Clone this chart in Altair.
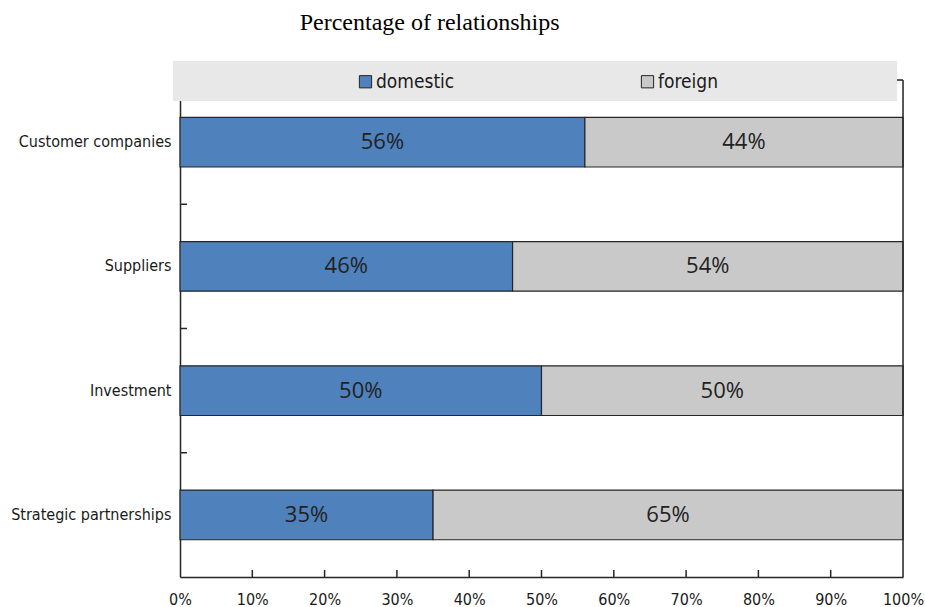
import altair as alt
import pandas as pd

# Share of business relationships by partner location
categories = ["Customer companies", "Suppliers", "Investment", "Strategic partnerships"]
domestic = [56, 46, 50, 35]
foreign = [44, 54, 50, 65]
series = ["domestic", "foreign"]
series_colors = ["#4F81BD", "#C9C9C9"]
x_ticks = [0, 10, 20, 30, 40, 50, 60, 70, 80, 90, 100]

rows = []
for cat, d, f in zip(categories, domestic, foreign):
    rows.append({"category": cat, "series": "domestic", "rank": 0, "value": d})
    rows.append({"category": cat, "series": "foreign", "rank": 1, "value": f})
df = pd.DataFrame(rows)

W, H = 723, 497
NARROW = "Liberation Sans Narrow, Arial Narrow, DejaVu Sans Condensed, sans-serif"
FRAME = "#262626"

x_scale = alt.Scale(domain=[0, 100], nice=False, zero=True)
y_scale = alt.Scale(domain=categories, paddingInner=0.6, paddingOuter=0.3)
b_scale = alt.Scale(domain=[0, len(categories)], nice=False)

x_axis = alt.Axis(values=x_ticks, labelExpr="datum.value + '%'", labelFont=NARROW,
                  labelFontSize=16, labelColor="#1a1a1a", labelPadding=14,
                  labelFlush=False, labelOverlap=False, tickSize=0,
                  domain=True, domainColor=FRAME, domainWidth=1.5, grid=False)

inner_ticks = pd.DataFrame({"t": x_ticks[1:-1]})
boundaries = pd.DataFrame({"b": list(range(1, len(categories)))})

# White gridlines on the pale background
x_grid = alt.Chart(inner_ticks).mark_rule(color="white", strokeWidth=1.2).encode(
    x=alt.X("t:Q", scale=x_scale, axis=x_axis, title=None)
)
y_grid = alt.Chart(boundaries).mark_rule(color="white", strokeWidth=1.2).encode(
    y=alt.Y("b:Q", scale=b_scale, axis=None)
)

stacked = alt.Chart(df).transform_stack(
    stack="value", groupby=["category"], as_=["x0", "x1"], sort=[alt.SortField("rank")]
).transform_calculate(mid="(datum.x0 + datum.x1) / 2", label="datum.value + '%'")

bars = stacked.mark_bar(stroke=FRAME, strokeWidth=1.2).encode(
    y=alt.Y("category:N", scale=y_scale, title=None,
            axis=alt.Axis(labelFont=NARROW, labelFontSize=16, labelColor="#1a1a1a",
                          labelPadding=9, tickSize=0, domain=True, domainColor=FRAME,
                          domainWidth=1.5, grid=False)),
    x=alt.X("x0:Q", scale=x_scale, title=None, axis=x_axis),
    x2="x1:Q",
    color=alt.Color("series:N", scale=alt.Scale(domain=series, range=series_colors),
                    legend=alt.Legend(orient="none", legendX=176, legendY=-8,
                                      direction="horizontal", title=None,
                                      symbolType="square", symbolSize=150,
                                      symbolStrokeColor=FRAME, symbolStrokeWidth=1,
                                      symbolOpacity=1, labelFont=NARROW, labelFontSize=19,
                                      labelColor="#1a1a1a", columnPadding=183,
                                      labelOffset=1)),
)

labels = stacked.mark_text(font="Open Sans", fontSize=22, color="#222222").encode(
    y=alt.Y("category:N", scale=y_scale),
    x=alt.X("mid:Q", scale=x_scale),
    text="label:N",
)

bar_layer = alt.layer(bars, labels)

# Inward tick marks along the bottom edge
x_tick_marks = alt.Chart(inner_ticks).mark_rule(color=FRAME, strokeWidth=1.5).encode(
    x=alt.X("t:Q", scale=x_scale),
    y=alt.value(H - 7),
    y2=alt.value(H),
)

# Inward tick marks on the left edge between categories
y_tick_marks = alt.Chart(boundaries).mark_rule(color=FRAME, strokeWidth=1.5).encode(
    y=alt.Y("b:Q", scale=b_scale, axis=None),
    x=alt.value(0),
    x2=alt.value(7),
)

# Right and top edges of the plot frame
frame_base = alt.Chart(pd.DataFrame({"k": [0]}))
right_edge = frame_base.mark_rule(color=FRAME, strokeWidth=1.5).encode(
    x=alt.datum(100), y=alt.value(0), y2=alt.value(H)
)
top_edge = frame_base.mark_rule(color=FRAME, strokeWidth=1.5).encode(
    x=alt.datum(0), x2=alt.datum(100), y=alt.value(0)
)

# Grey band behind the legend entries
legend_box = frame_base.mark_rect(color="#E8E8E8").encode(
    x=alt.value(-7), x2=alt.value(717), y=alt.value(-19), y2=alt.value(21)
)

chart = alt.layer(
    x_grid, y_grid, x_tick_marks, bar_layer, y_tick_marks, right_edge, top_edge, legend_box
).resolve_scale(y="independent").properties(
    width=W, height=H,
    title=alt.TitleParams("Percentage of relationships", font="Liberation Serif",
                          fontSize=24, fontWeight="normal", color="#000000",
                          anchor="start", dx=289, dy=-22),
    autosize=alt.AutoSizeParams(type="none"),
    padding={"left": 180, "top": 80, "right": 22, "bottom": 30},
).configure_view(
    fill="#F3FFFF", stroke=None
).configure(background="white")

chart.save("out.html", embed_options={"renderer": "svg", "actions": False})
